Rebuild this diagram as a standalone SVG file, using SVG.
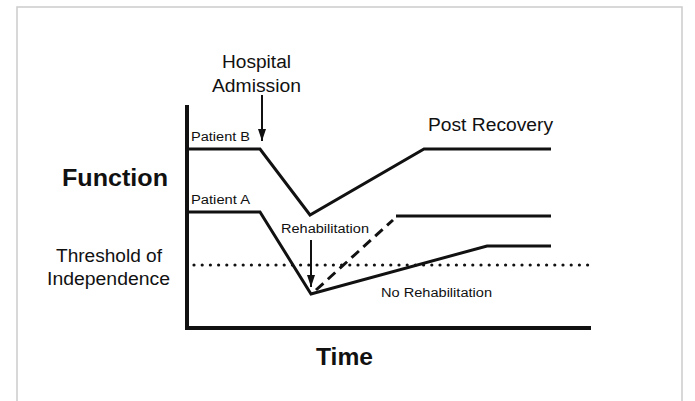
<svg xmlns="http://www.w3.org/2000/svg" width="695" height="401" viewBox="0 0 695 401">
<defs>
<style>
text{font-family:"Liberation Sans",Arial,sans-serif;fill:#111}
.big{font-size:24px;font-weight:bold}
.mid{font-size:18px}
.sm{font-size:12px}
.ln{fill:none;stroke:#111;stroke-width:3;stroke-linejoin:miter}
.ax{fill:none;stroke:#111;stroke-width:4}
</style>
<marker id="ah" viewBox="0 0 12 8" refX="12" refY="4" markerWidth="12" markerHeight="8" markerUnits="userSpaceOnUse" orient="auto">
<path d="M0,0 L12,4 L0,8 Z" fill="#111"/>
</marker>
</defs>
<rect width="695" height="401" fill="#fff"/>
<path d="M17,410 V7 H682 V410" fill="none" stroke="#ccc" stroke-width="1.5"/>
<g id="axes">
<path class="ax" d="M187,105 V328 H591"/>
</g>
<g id="labels">
<text class="big" x="62" y="186" textLength="106" lengthAdjust="spacingAndGlyphs">Function</text>
<text class="big" x="316" y="365" textLength="57" lengthAdjust="spacingAndGlyphs">Time</text>
<text class="mid" x="56" y="262" textLength="106" lengthAdjust="spacingAndGlyphs">Threshold of</text>
<text class="mid" x="47" y="285" textLength="123" lengthAdjust="spacingAndGlyphs">Independence</text>
<text class="mid" x="222" y="68" textLength="69" lengthAdjust="spacingAndGlyphs">Hospital</text>
<text class="mid" x="212" y="92" textLength="89" lengthAdjust="spacingAndGlyphs">Admission</text>
<text class="mid" x="428" y="131" textLength="125" lengthAdjust="spacingAndGlyphs">Post Recovery</text>
<text class="sm" x="191" y="141" textLength="59" lengthAdjust="spacingAndGlyphs">Patient B</text>
<text class="sm" x="191" y="204" textLength="59" lengthAdjust="spacingAndGlyphs">Patient A</text>
<text class="sm" x="281" y="233" textLength="88" lengthAdjust="spacingAndGlyphs">Rehabilitation</text>
<text class="sm" x="381" y="297" textLength="111" lengthAdjust="spacingAndGlyphs">No Rehabilitation</text>
</g>
<g id="connectors">
<path id="threshold" d="M194,265 H588" fill="none" stroke="#111" stroke-width="3.2" stroke-linecap="round" stroke-dasharray="0 8.2"/>
<path id="patientB" class="ln" d="M187,149 H260 L310,215 L424,149 H551"/>
<path id="patientA" class="ln" d="M187,212 H260 L311,294 L487,246 H551"/>
<path id="rehab-dash" class="ln" d="M316,290 L393,220" stroke-dasharray="10 6"/>
<path id="rehab-flat" class="ln" d="M396,216 H551"/>
<path id="arrow-admission" d="M262,95 V141" fill="none" stroke="#111" stroke-width="2" marker-end="url(#ah)"/>
<path id="arrow-rehab" d="M311,240 V287" fill="none" stroke="#111" stroke-width="2" marker-end="url(#ah)"/>
</g>
</svg>
